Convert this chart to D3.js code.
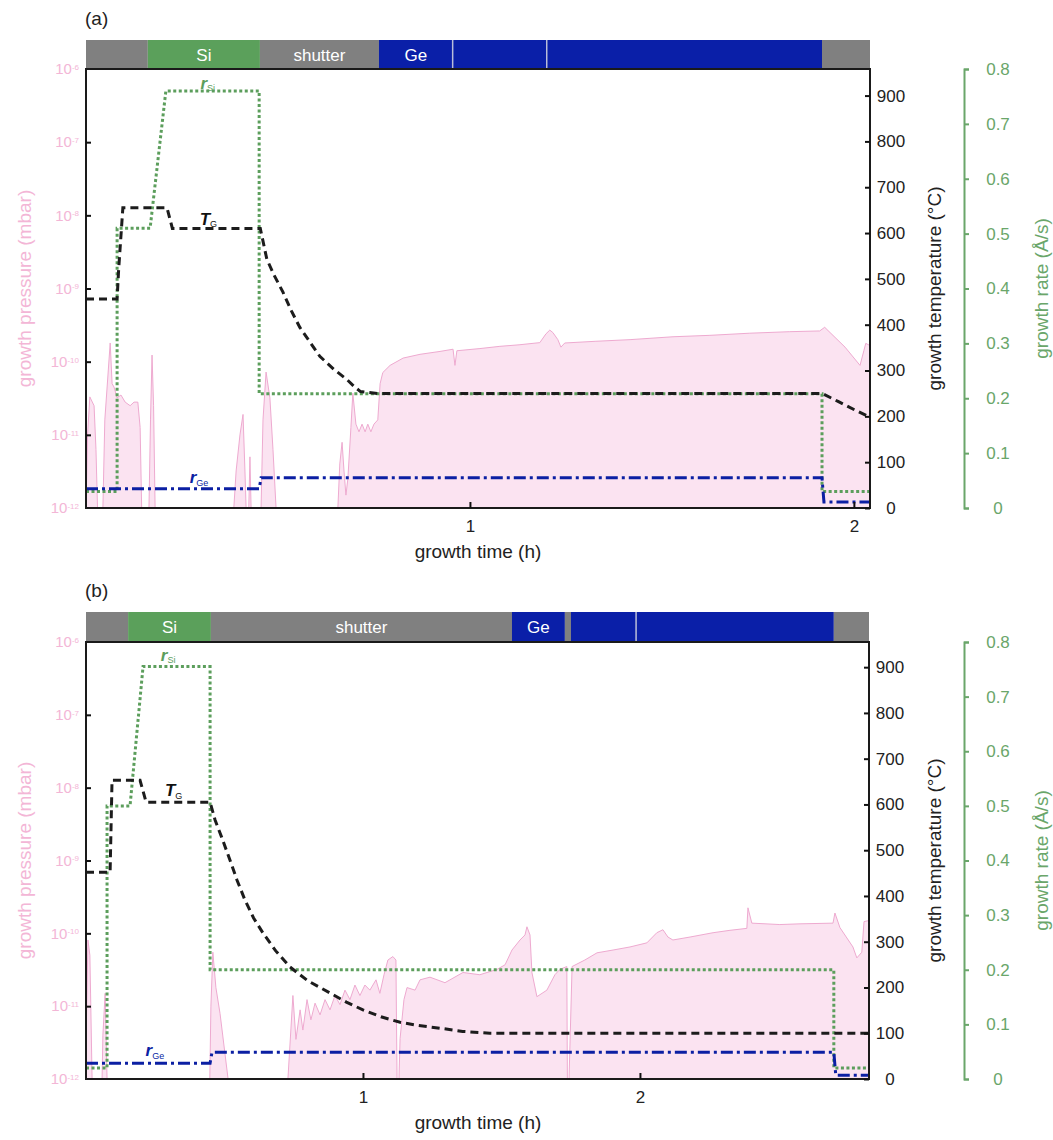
<!DOCTYPE html>
<html>
<head>
<meta charset="utf-8">
<script src="https://cdn.jsdelivr.net/npm/d3@7"></script>
<style>
  body { margin: 0; background: #fff; }
  text { font-family: "Liberation Sans", Arial, sans-serif; }
</style>
</head>
<body>
<script>
// ---------- panel (a) data ----------
var pressTimeA = [0,0.004,0.010,0.021,0.026,0.030, 0.044,0.049,0.055,0.063,0.068,0.073,0.081,0.091,0.102,0.115,0.125,0.135,0.141,0.145,
  0.164,0.168,0.172,0.176,0.180, 0.385,0.391,0.401,0.409,0.414,0.417,0.424,0.427,0.430, 0.456,0.461,0.469,0.479,0.487,0.495,
  0.656,0.661,0.667,0.672,0.677, 0.682,0.690,0.695,0.703,0.711,0.719,0.727,0.734,0.742,0.750,0.760,0.766,0.773,0.792,0.826,
  0.870,0.922,0.956,0.961,0.966,1.026,1.078,1.128,1.182,1.198,1.208,1.216,1.229,1.237,1.247,1.328,1.417,1.529,1.625,1.729,
  1.833,1.911,1.924,1.938,1.977,2.016,2.026,2.031,2.042];
var pressA = [5e-13,1e-11,3.3e-11,2.5e-11,6.3e-12,5e-13, 5e-13,1.6e-11,4.5e-11,1.8e-10,5e-11,4.5e-11,3.2e-11,3.5e-11,2.8e-11,2.5e-11,2.8e-11,2.8e-11,1.26e-11,5e-13,
  5e-13,1.6e-11,1.23e-10,2.5e-11,5e-13, 5e-13,3.2e-12,1e-11,1.9e-11,3.2e-12,5e-13,5e-13,5e-12,5e-13, 5e-13,1.6e-11,7.2e-11,3.2e-11,6.3e-12,5e-13,
  5e-13,4e-12,7.9e-12,3.2e-12,1.5e-12, 2.5e-12,1.26e-11,3.7e-11,1.4e-11,1.1e-11,1.4e-11,1.1e-11,1.4e-11,1.1e-11,1.4e-11,1.6e-11,5e-11,7.1e-11,8.9e-11,1.12e-10,
  1.26e-10,1.38e-10,1.48e-10,8.9e-11,1.41e-10,1.51e-10,1.62e-10,1.7e-10,1.82e-10,2.4e-10,2.7e-10,2.5e-10,2.0e-10,1.58e-10,1.8e-10,1.9e-10,2.0e-10,2.19e-10,2.29e-10,2.45e-10,
  2.57e-10,2.63e-10,2.95e-10,2.5e-10,1.58e-10,8.9e-11,1.41e-10,1.78e-10,1.66e-10];

var tempTimeA = [0,0.081,0.085,0.096,0.211,0.225,0.454,0.471,0.490,0.513,0.535,0.557,0.585,0.609,0.645,0.680,0.700,0.715,0.760,1.917,1.960,2.000,2.042];
var tempA     = [456,456,520,655,655,610,610,543,508,471,430,394,360,331,303,280,264,254,250,250,232,215,198];

var siTimeA = [0,0.081,0.081,0.167,0.208,0.451,0.451,1.917,1.917,2.042];
var siRateA = [0.03,0.03,0.51,0.51,0.76,0.76,0.208,0.208,0.03,0.03];

var geTimeA = [0,0.451,0.456,1.917,1.922,2.042];
var geRateA = [0.035,0.035,0.055,0.055,0.011,0.011];

var barStartA = [0,0.161,0.453,0.763,0.955,1.200,1.917];
var barEndA   = [0.161,0.453,0.763,0.955,1.200,1.917,2.042];
var barKindA  = ["idle","Si","shutter","Ge","Ge","Ge","idle"];
var barTextA  = ["","Si","shutter","Ge","","",""];

// ---------- panel (b) data ----------
var pressTimeB = [0,0.007,0.014,0.022,0.058,0.061,0.069,0.076,0.447,0.451,0.458,0.469,0.484,0.513,
  0.729,0.740,0.747,0.758,0.773,0.783,0.798,0.812,0.827,0.845,0.863,0.881,0.899,0.917,0.935,0.953,0.971,0.989,1.007,1.025,
  1.047,1.061,1.076,1.090,1.108,1.119,1.123,1.130,1.134,1.148,1.159,1.188,1.206,1.242,1.296,1.361,1.422,1.484,1.513,1.538,
  1.567,1.585,1.592,1.603,1.610,1.628,1.664,1.693,1.711,1.736,1.738,1.744,1.755,1.801,1.845,1.903,1.964,2.025,2.061,2.083,
  2.101,2.119,2.181,2.264,2.325,2.386,2.390,2.404,2.505,2.578,2.697,2.704,2.722,2.769,2.783,2.801,2.809,2.827];
var pressB = [3e-12,8.1e-11,5e-11,5e-13,5e-13,4e-12,1.5e-11,5e-13,5e-13,1e-11,5.5e-11,1.8e-11,7.9e-12,5e-13,
  5e-13,5e-12,1.4e-11,3.5e-12,8.9e-12,4.7e-12,1.23e-11,6.5e-12,1.1e-11,7.6e-12,1.23e-11,8.9e-12,1.4e-11,1.05e-11,1.66e-11,1.23e-11,1.95e-11,1.4e-11,1.95e-11,1.66e-11,
  2.3e-11,1.5e-11,2.7e-11,4.3e-11,4.8e-11,4.3e-11,5e-13,5e-13,3.6e-12,1.23e-11,1.8e-11,1.66e-11,2.3e-11,2.5e-11,2.1e-11,2.9e-11,2.7e-11,3.2e-11,3.7e-11,5.9e-11,
  8.1e-11,9.5e-11,1.23e-10,9.5e-11,2.9e-11,1.35e-11,1.66e-11,2.7e-11,3.2e-11,3.5e-11,5e-13,5e-13,3.5e-11,4.3e-11,5.4e-11,5.9e-11,6.5e-11,7.4e-11,1.02e-10,1.12e-10,
  8.9e-11,8.1e-11,8.9e-11,1.02e-10,1.1e-10,1.17e-10,2.24e-10,1.38e-10,1.32e-10,1.35e-10,1.38e-10,1.9e-10,1.2e-10,6.5e-11,4.6e-11,5.5e-11,1.45e-10,1.5e-10];

var tempTimeB = [0,0.087,0.094,0.195,0.217,0.448,0.466,0.490,0.520,0.545,0.574,0.605,0.639,0.685,0.736,0.800,0.881,0.940,1.000,1.065,1.134,1.200,1.278,1.360,1.458,2.827];
var tempB     = [452,452,653,653,605,605,566,528,478,435,391,352,319,280,245,215,188,168,151,136,124,117,111,104,100,100];

var siTimeB = [0,0.076,0.076,0.159,0.206,0.448,0.448,2.700,2.700,2.827];
var siRateB = [0.02,0.02,0.50,0.50,0.755,0.755,0.20,0.20,0.02,0.02];

var geTimeB = [0,0.448,0.455,2.700,2.707,2.827];
var geRateB = [0.029,0.029,0.049,0.049,0.007,0.007];

var barStartB = [0,0.152,0.451,1.538,1.729,1.751,1.986,2.700];
var barEndB   = [0.152,0.451,1.538,1.729,1.751,1.986,2.700,2.827];
var barKindB  = ["idle","Si","shutter","Ge","idle","Ge","Ge","idle"];
var barTextB  = ["","Si","shutter","Ge","","","",""];

// ---------- common ----------
var decades   = [1e-12,1e-11,1e-10,1e-9,1e-8,1e-7,1e-6];
var tempTicks = [0,100,200,300,400,500,600,700,800,900];
var rateTicks = [0,0.1,0.2,0.3,0.4,0.5,0.6,0.7,0.8];
var timeTicks = [1,2];

var pinkText = "#f3b6d6";
var green = "#5c9e5c";
var blue = "#0b1fa3";
var barColor = { idle: "#808080", Si: "#5ba05b", shutter: "#808080", Ge: "#0a1fa8" };

var svg = d3.select("body").append("svg")
  .attr("width", 1053)
  .attr("height", 1140);

function zip(a, b) { return a.map(function(d, i) { return [d, b[i]]; }); }

function drawPanel(p) {
  var g = svg.append("g");
  var left = 86;

  var x  = d3.scaleLinear().domain([0, p.tMax]).range([left, p.right]);
  var yP = d3.scaleLog().domain([1e-12, 1e-6]).range([p.bottom, p.top]).clamp(true);
  var yT = d3.scaleLinear().domain([0, p.tempMax]).range([p.bottom, p.top]);
  var yR = d3.scaleLinear().domain([0, 0.8]).range([p.bottom, p.top]);

  g.append("clipPath").attr("id", "clip" + p.id)
    .append("rect")
    .attr("x", left).attr("y", p.top)
    .attr("width", p.right - left).attr("height", p.bottom - p.top);

  var plot = g.append("g").attr("clip-path", "url(#clip" + p.id + ")");

  // pressure trace (filled to the axis)
  var pdata = zip(p.pressTime, p.press);
  plot.append("path")
    .datum(pdata)
    .attr("d", d3.area()
      .x(function(d) { return x(d[0]); })
      .y0(p.bottom)
      .y1(function(d) { return yP(d[1]); }))
    .style("fill", "#fbe3f1");
  plot.append("path")
    .datum(pdata)
    .attr("d", d3.line()
      .x(function(d) { return x(d[0]); })
      .y(function(d) { return yP(d[1]); }))
    .style("fill", "none")
    .style("stroke", "#eeaad0")
    .style("stroke-width", 1);

  // growth rate Si (dotted green)
  plot.append("path")
    .datum(zip(p.siTime, p.siRate))
    .attr("d", d3.line().x(function(d) { return x(d[0]); }).y(function(d) { return yR(d[1]); }))
    .style("fill", "none")
    .style("stroke", green)
    .style("stroke-width", 3)
    .style("stroke-dasharray", "3,2.5");

  // growth rate Ge (dash-dot blue)
  plot.append("path")
    .datum(zip(p.geTime, p.geRate))
    .attr("d", d3.line().x(function(d) { return x(d[0]); }).y(function(d) { return yR(d[1]); }))
    .style("fill", "none")
    .style("stroke", blue)
    .style("stroke-width", 3)
    .style("stroke-dasharray", "12,4,3,4");

  // growth temperature (dashed black)
  plot.append("path")
    .datum(zip(p.tempTime, p.temp))
    .attr("d", d3.line().x(function(d) { return x(d[0]); }).y(function(d) { return yT(d[1]); }))
    .style("fill", "none")
    .style("stroke", "#1c1c1c")
    .style("stroke-width", 3)
    .style("stroke-dasharray", "8,5");

  // source bar on top
  var bar = g.append("g");
  p.barStart.forEach(function(s, i) {
    bar.append("rect")
      .attr("x", x(s))
      .attr("y", p.barTop)
      .attr("width", x(p.barEnd[i]) - x(s))
      .attr("height", p.top - p.barTop)
      .style("fill", barColor[p.barKind[i]]);
    if (i > 0 && p.barKind[i] === "Ge" && p.barKind[i - 1] === "Ge") {
      bar.append("line")
        .attr("x1", x(s)).attr("x2", x(s))
        .attr("y1", p.barTop).attr("y2", p.top)
        .style("stroke", "#b9bdd9")
        .style("stroke-width", 1.5);
    }
    if (p.barText[i]) {
      bar.append("text")
        .attr("x", (x(s) + x(p.barEnd[i])) / 2)
        .attr("y", (p.barTop + p.top) / 2)
        .attr("dy", "0.36em")
        .attr("text-anchor", "middle")
        .style("font-size", "17px")
        .style("fill", "#fff")
        .text(p.barText[i]);
    }
  });

  // frame
  g.append("rect")
    .attr("x", left).attr("y", p.top)
    .attr("width", p.right - left).attr("height", p.bottom - p.top)
    .style("fill", "none")
    .style("stroke", "#1a1a1a")
    .style("stroke-width", 2);

  // left pressure axis: inner ticks, pink labels
  var la = g.append("g")
    .attr("transform", "translate(" + left + ",0)")
    .call(d3.axisLeft(yP).tickValues(decades.slice(1, 6)).tickSizeInner(-5).tickSizeOuter(0).tickFormat(""));
  la.select(".domain").remove();
  la.selectAll(".tick line").style("stroke", "#111").style("stroke-width", 2);

  decades.forEach(function(d) {
    var t = g.append("text")
      .attr("x", 79)
      .attr("y", yP(d))
      .attr("dy", "0.35em")
      .attr("text-anchor", "end")
      .style("font-size", "15px")
      .style("fill", pinkText)
      .text("10");
    t.append("tspan")
      .attr("dy", "-0.55em")
      .style("font-size", "8px")
      .text("-" + Math.round(-Math.log10(d)));
  });

  g.append("text")
    .attr("transform", "translate(24," + (p.top + p.bottom) / 2 + ") rotate(-90)")
    .attr("text-anchor", "middle")
    .attr("dy", "0.35em")
    .style("font-size", "19px")
    .style("fill", pinkText)
    .text("growth pressure (mbar)");

  // right temperature axis
  var ta = g.append("g")
    .attr("transform", "translate(" + p.right + ",0)")
    .call(d3.axisRight(yT).tickValues(tempTicks).tickSizeInner(-5).tickSizeOuter(0).tickPadding(0));
  ta.select(".domain").remove();
  ta.selectAll(".tick line").style("stroke", "#111").style("stroke-width", 2);
  ta.selectAll(".tick text")
    .attr("x", 21)
    .attr("text-anchor", "middle")
    .style("font-size", "17px")
    .style("font-family", "'Liberation Sans', Arial, sans-serif")
    .style("fill", "#222");

  g.append("text")
    .attr("transform", "translate(934," + (p.top + p.bottom) / 2 + ") rotate(-90)")
    .attr("text-anchor", "middle")
    .attr("dy", "0.35em")
    .style("font-size", "19px")
    .style("fill", "#222")
    .text("growth temperature (°C)");

  // growth rate axis (green bracket)
  var ra = g.append("g")
    .attr("transform", "translate(964,0)")
    .call(d3.axisRight(yR).tickValues(rateTicks).tickSizeInner(5).tickSizeOuter(5).tickPadding(0)
      .tickFormat(function(d) { return d === 0 ? "0" : d3.format(".1f")(d); }));
  ra.select(".domain").style("stroke", "#6aa66a").style("stroke-width", 2);
  ra.selectAll(".tick line").style("stroke", "#6aa66a").style("stroke-width", 2);
  ra.selectAll(".tick text")
    .attr("x", 34)
    .attr("text-anchor", "middle")
    .style("font-size", "17px")
    .style("font-family", "'Liberation Sans', Arial, sans-serif")
    .style("fill", "#6aa66a");

  g.append("text")
    .attr("transform", "translate(1041," + (p.top + p.bottom) / 2 + ") rotate(-90)")
    .attr("text-anchor", "middle")
    .attr("dy", "0.35em")
    .style("font-size", "19px")
    .style("fill", "#6aa66a")
    .text("growth rate (Å/s)");

  // time axis
  var xa = g.append("g")
    .attr("transform", "translate(0," + p.bottom + ")")
    .call(d3.axisBottom(x).tickValues(timeTicks).tickFormat(d3.format("d"))
      .tickSizeInner(-6).tickSizeOuter(0).tickPadding(12));
  xa.select(".domain").remove();
  xa.selectAll(".tick line").style("stroke", "#111").style("stroke-width", 2);
  xa.selectAll(".tick text")
    .style("font-size", "17px")
    .style("font-family", "'Liberation Sans', Arial, sans-serif")
    .style("fill", "#222");

  g.append("text")
    .attr("x", 478)
    .attr("y", p.bottom + 50)
    .attr("text-anchor", "middle")
    .style("font-size", "19px")
    .style("fill", "#222")
    .text("growth time (h)");

  // panel letter
  g.append("text")
    .attr("x", 85)
    .attr("y", p.barTop - 15)
    .style("font-size", "19px")
    .style("fill", "#222")
    .text(p.label);

  // curve labels
  function curveLabel(px, py, main, sub, color) {
    var t = g.append("text")
      .attr("x", px).attr("y", py)
      .attr("dy", "0.35em")
      .style("fill", color)
      .style("font-size", "17px")
      .style("font-weight", "bold")
      .style("font-style", "italic")
      .text(main);
    t.append("tspan")
      .attr("dy", "0.3em")
      .style("font-size", "9px")
      .style("font-style", "normal")
      .style("font-weight", "normal")
      .text(sub);
  }
  curveLabel(x(p.siLab[0]), yR(p.siLab[1]), "r", "Si", green);
  curveLabel(x(p.tLab[0]), yT(p.tLab[1]), "T", "G", "#111");
  curveLabel(x(p.geLab[0]), yR(p.geLab[1]), "r", "Ge", blue);
}

drawPanel({
  id: "a", label: "(a)",
  barTop: 40, top: 69, bottom: 508, right: 870,
  tMax: 2.042, tempMax: 958,
  pressTime: pressTimeA, press: pressA,
  tempTime: tempTimeA, temp: tempA,
  siTime: siTimeA, siRate: siRateA,
  geTime: geTimeA, geRate: geRateA,
  barStart: barStartA, barEnd: barEndA, barKind: barKindA, barText: barTextA,
  siLab: [0.298, 0.775], tLab: [0.296, 631], geLab: [0.27, 0.056]
});

drawPanel({
  id: "b", label: "(b)",
  barTop: 612, top: 642, bottom: 1079, right: 869,
  tMax: 2.827, tempMax: 955,
  pressTime: pressTimeB, press: pressB,
  tempTime: tempTimeB, temp: tempB,
  siTime: siTimeB, siRate: siRateB,
  geTime: geTimeB, geRate: geRateB,
  barStart: barStartB, barEnd: barEndB, barKind: barKindB, barText: barTextB,
  siLab: [0.27, 0.777], tLab: [0.285, 631], geLab: [0.215, 0.053]
});
</script>
</body>
</html>
